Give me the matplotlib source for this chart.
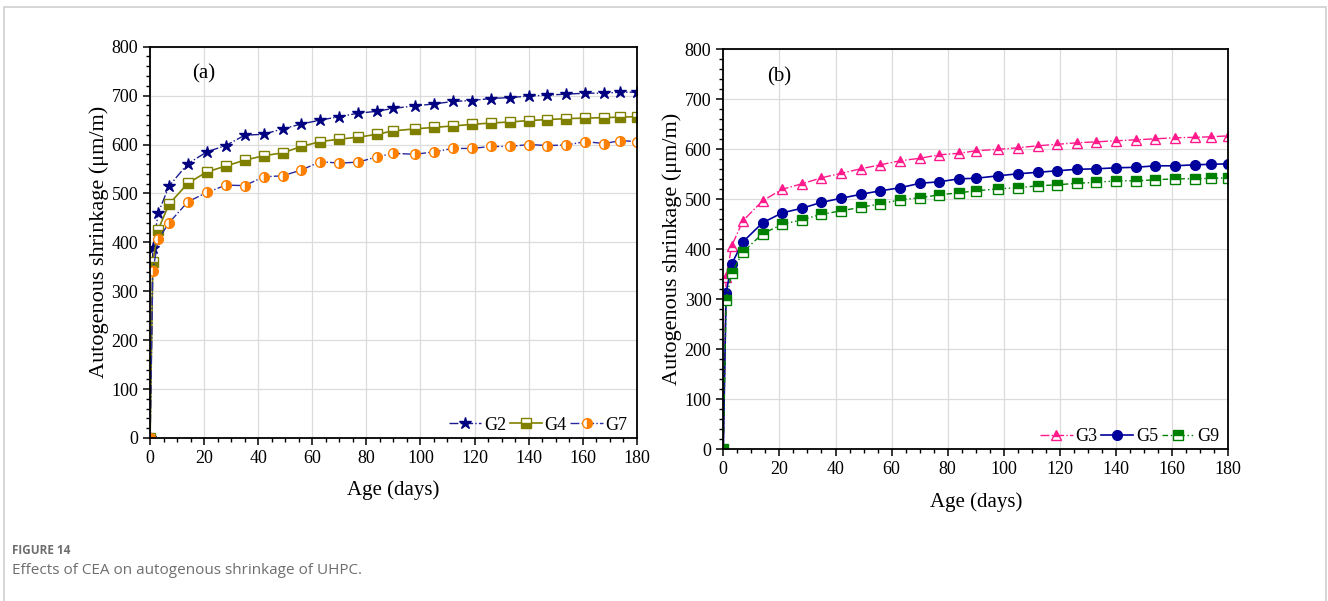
import matplotlib
matplotlib.use('Agg')
import matplotlib.pyplot as plt
from matplotlib.ticker import MultipleLocator
from matplotlib.patches import Rectangle

# age (days)
days = [0, 1, 3, 7, 14, 21, 28, 35, 42, 49, 56, 63, 70, 77, 84,
        90, 98, 105, 112, 119, 126, 133, 140, 147, 154, 161, 168, 174, 180]

# panel (a)
g2 = [0, 388, 460, 515, 561, 585, 598, 619, 621, 632, 642, 650, 657, 664, 668,
      674, 679, 683, 688, 690, 694, 696, 699, 701, 703, 705, 705, 707, 707]
g4 = [0, 359, 426, 478, 521, 544, 556, 568, 577, 583, 596, 606, 611, 615, 621,
      628, 632, 635, 638, 641, 644, 646, 649, 651, 653, 654, 655, 656, 657]
g7 = [0, 341, 406, 440, 483, 502, 517, 516, 534, 536, 548, 565, 562, 564, 575,
      582, 580, 585, 592, 592, 596, 596, 600, 598, 599, 606, 602, 608, 606]

# panel (b)
g3 = [0, 344, 407, 457, 497, 520, 531, 543, 552, 561, 569, 577, 582, 589, 592,
      597, 600, 603, 607, 610, 613, 615, 617, 619, 621, 623, 624, 625, 627]
g5 = [0, 313, 371, 415, 453, 473, 482, 494, 502, 510, 517, 523, 532, 535, 541,
      542, 547, 551, 554, 557, 560, 561, 563, 564, 567, 567, 569, 570, 571]
g9 = [0, 299, 352, 395, 431, 450, 459, 470, 477, 484, 491, 499, 503, 509, 513,
      517, 521, 523, 527, 529, 532, 534, 537, 537, 539, 541, 541, 542, 543]

plt.rcParams['font.family'] = ['Liberation Serif', 'DejaVu Serif']

fig = plt.figure(figsize=(13.28, 6.01), dpi=100)

# thin grey frame like the journal page
fig.patches.append(Rectangle((4 / 1328, -0.1), 1322 / 1328, 1.1 - 7 / 601, transform=fig.transFigure,
                             fill=False, edgecolor='#d0d0d0', linewidth=1.2))

axA = fig.add_axes([150.1 / 1328, 1 - 438 / 601, 486.6 / 1328, 391.3 / 601])
axB = fig.add_axes([723.3 / 1328, 1 - 449.3 / 601, 505 / 1328, 400 / 601])


def style_axis(ax, label):
    ax.set_xlim(0, 180)
    ax.set_ylim(0, 800)
    ax.xaxis.set_major_locator(MultipleLocator(20))
    ax.xaxis.set_minor_locator(MultipleLocator(5))
    ax.yaxis.set_major_locator(MultipleLocator(100))
    ax.yaxis.set_minor_locator(MultipleLocator(20))
    ax.tick_params(which='both', direction='out', top=False, right=False, labelsize=13)
    ax.tick_params(which='major', length=5, width=1.1)
    ax.tick_params(which='minor', length=3, width=1.0)
    ax.grid(True, which='major', color='#dcdcdc', linewidth=0.9)
    ax.set_axisbelow(True)
    for s in ax.spines.values():
        s.set_linewidth(1.3)
    ax.set_xlabel('Age (days)', fontsize=15, labelpad=10)
    ax.set_ylabel('Autogenous shrinkage (μm/m)', fontsize=16, labelpad=2)
    ax.text(20, 745, label, fontsize=15, ha='center', va='center')
    ax.legend(loc='lower right', bbox_to_anchor=(1.0, -0.012), ncol=3, frameon=False, fontsize=13,
              handlelength=1.8, handletextpad=0.15, columnspacing=0.2, borderaxespad=0.1)


axA.plot(days, g2, color='#1a1a8c', linestyle='-.', linewidth=1.0, marker='*', markersize=9,
         markerfacecolor='#000080', markeredgecolor='#000080', label='G2')
axA.plot(days, g4, color='#808000', linestyle='-', linewidth=1.2, marker='s', markersize=6.5,
         fillstyle='bottom', markerfacecolor='#808000', markerfacecoloralt='white',
         markeredgecolor='#808000', markeredgewidth=1.0, label='G4')
axA.plot(days, g7, color='#2a2aa0', linestyle='-.', linewidth=1.0, marker='o', markersize=7,
         fillstyle='right', markerfacecolor='#ff8000', markerfacecoloralt='white',
         markeredgecolor='#ff8000', markeredgewidth=1.0, label='G7')
style_axis(axA, '(a)')

axB.plot(days, g3, color='#ff1a8c', linestyle='-.', linewidth=1.0, marker='^', markersize=7.5,
         fillstyle='top', markerfacecolor='#ff1a8c', markerfacecoloralt='white',
         markeredgecolor='#ff1a8c', markeredgewidth=1.0, label='G3')
axB.plot(days, g5, color='#00009c', linestyle='-', linewidth=1.2, marker='o', markersize=7,
         markerfacecolor='#00009c', markeredgecolor='#00009c', label='G5')
axB.plot(days, g9, color='#008000', linestyle=(0, (4, 2, 1, 2, 1, 2)), linewidth=1.0, marker='s',
         markersize=6.5, fillstyle='top', markerfacecolor='#008000', markerfacecoloralt='white',
         markeredgecolor='#008000', markeredgewidth=1.0, label='G9')
style_axis(axB, '(b)')

fig.text(12 / 1328, 1 - 551 / 601, 'FIGURE 14', fontsize=8.5, fontweight='bold', color='#6e6e6e',
         family=['Open Sans', 'DejaVu Sans'], va='center')
fig.text(12 / 1328, 1 - 571 / 601, 'Effects of CEA on autogenous shrinkage of UHPC.', fontsize=11,
         color='#6e6e6e', family=['Open Sans', 'DejaVu Sans'], va='center')

plt.savefig('out.png', dpi=100)
